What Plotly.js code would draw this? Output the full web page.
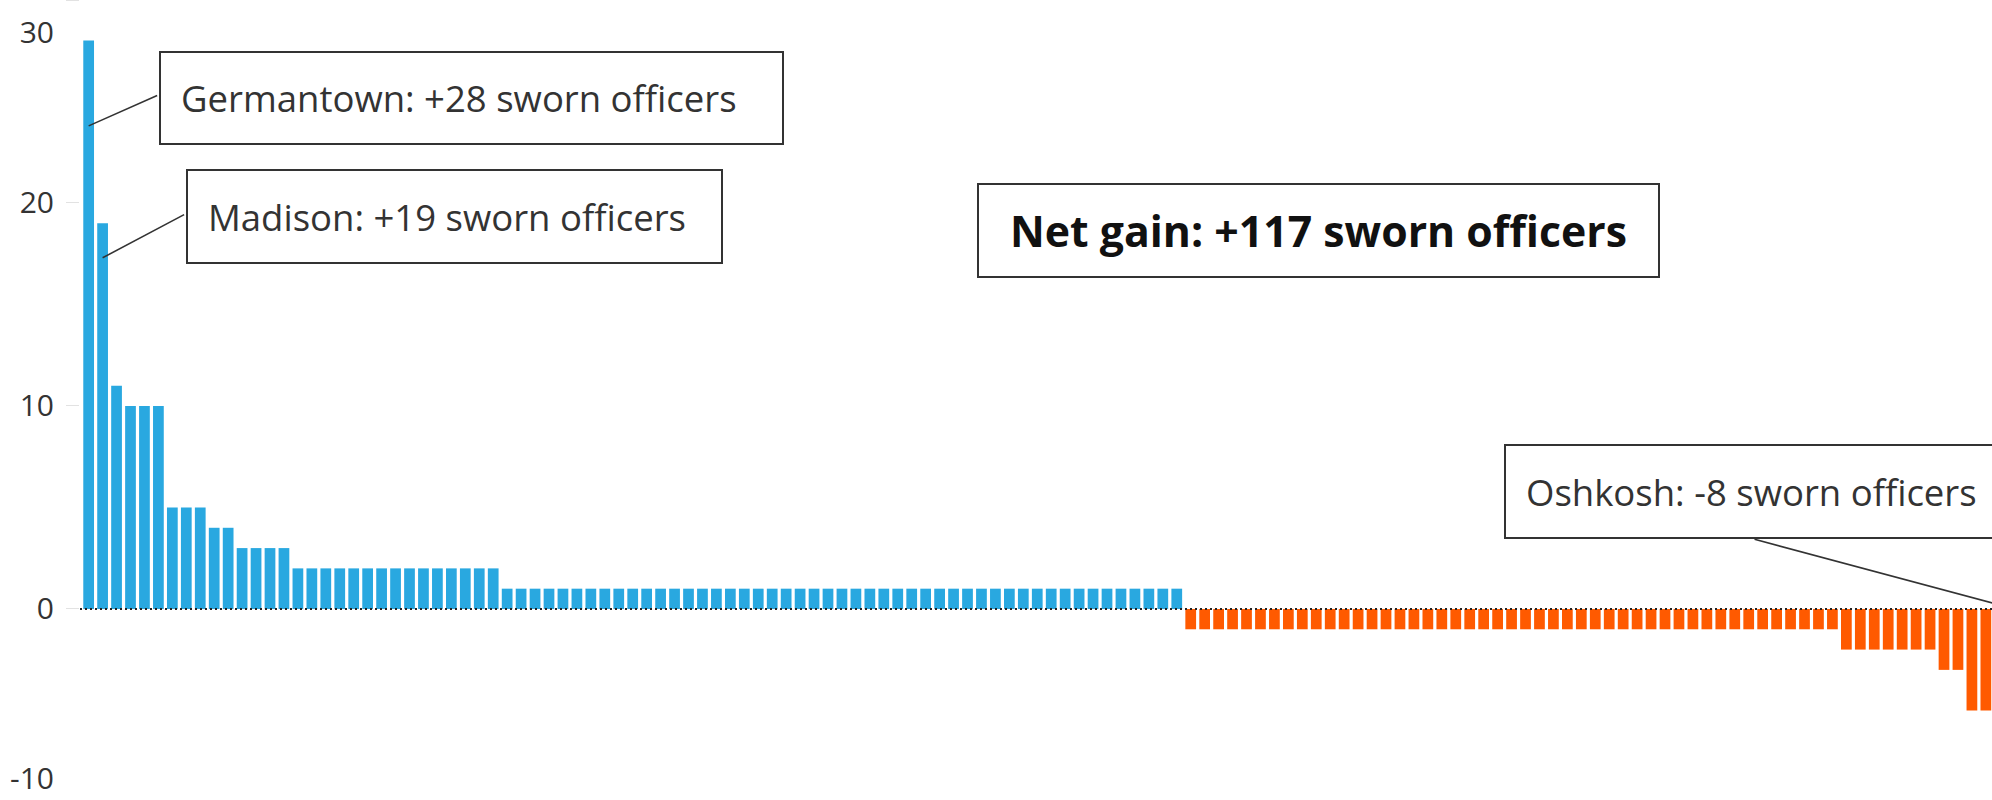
<!DOCTYPE html>
<html>
<head>
<meta charset="utf-8">
<script src="https://cdn.plot.ly/plotly-3.0.1.min.js"></script>
<style>
  html, body { margin: 0; padding: 0; background: #ffffff; }
  #chart { width: 1992px; height: 800px; }
</style>
</head>
<body>
<div id="chart"></div>
<script>
// Change in sworn officers per police department, sorted from largest gain to largest loss
const officerChange = [
  28, 19, 11, 10, 10, 10, 5, 5, 5, 4, 4, 3, 3, 3, 3,
  2, 2, 2, 2, 2, 2, 2, 2, 2, 2, 2, 2, 2, 2, 2,
  1, 1, 1, 1, 1, 1, 1, 1, 1, 1, 1, 1, 1, 1, 1, 1, 1, 1, 1, 1,
  1, 1, 1, 1, 1, 1, 1, 1, 1, 1, 1, 1, 1, 1, 1, 1, 1, 1, 1, 1,
  1, 1, 1, 1, 1, 1, 1, 1, 1,
  -1, -1, -1, -1, -1, -1, -1, -1, -1, -1, -1, -1, -1, -1, -1, -1, -1, -1, -1, -1,
  -1, -1, -1, -1, -1, -1, -1, -1, -1, -1, -1, -1, -1, -1, -1, -1, -1, -1, -1, -1,
  -1, -1, -1, -1, -1, -1, -1,
  -2, -2, -2, -2, -2, -2, -2,
  -3, -3,
  -5, -5,
  -8
];
// rank position of each department along the x axis
const departmentRank = officerChange.map((_, i) => i);

const yTickValues = [0, 10, 20, 30];
const yTickLabels = ['0', '10', '20', ''];
const edgeTickValues = [30, -10];
const edgeTickLabels = ['30', '-10'];

const calloutLabels = [
  'Germantown: +28 sworn officers',
  'Madison: +19 sworn officers',
  'Oshkosh: -8 sworn officers'
];
const netGainLabel = 'Net gain: +117 sworn officers';

const gainColor = '#29A8E0';
const lossColor = '#FF5A00';

const barTrace = {
  type: 'bar',
  x: departmentRank,
  y: officerChange,
  marker: { color: officerChange.map(v => v >= 0 ? gainColor : lossColor), line: { width: 0 } },
  hoverinfo: 'skip'
};
// empty trace so the edge-label axis (y2) is created
const edgeAxisTrace = { type: 'scatter', x: [], y: [], yaxis: 'y2', hoverinfo: 'skip', showlegend: false };

const boxStyle = { showarrow: false, bordercolor: '#333333', borderwidth: 2, bgcolor: '#ffffff' };
const leaderStyle = { text: '', showarrow: true, arrowhead: 0, arrowwidth: 1.6, arrowcolor: '#333333' };
const labelFont = { size: 36.5, color: '#333333' };

const layout = {
  width: 1992,
  height: 800,
  margin: { l: 80, r: 0, t: 0, b: 0, pad: 0 },
  paper_bgcolor: '#ffffff',
  plot_bgcolor: '#ffffff',
  showlegend: false,
  bargap: 0.23,
  font: { family: '"Open Sans", sans-serif', color: '#333333' },
  xaxis: {
    range: [-0.62, 136.44],
    showgrid: false, zeroline: false, showline: false,
    showticklabels: false, ticks: '', fixedrange: true
  },
  yaxis: {
    range: [-9.41, 30.0],
    tickvals: yTickValues, ticktext: yTickLabels,
    ticks: 'outside', ticklen: 13, tickwidth: 1, tickcolor: '#e2e2e2',
    ticklabelstandoff: 6, ticklabeloverflow: 'allow',
    showgrid: false, zeroline: false, showline: false,
    tickfont: { size: 30, color: '#333333' }, fixedrange: true
  },
  yaxis2: {
    overlaying: 'y', side: 'left', anchor: 'x',
    range: [-11.18, 31.72],
    tickvals: edgeTickValues, ticktext: edgeTickLabels,
    ticks: 'outside', ticklen: 13, tickwidth: 1, tickcolor: 'rgba(0,0,0,0)',
    ticklabelstandoff: 6, ticklabeloverflow: 'allow',
    showgrid: false, zeroline: false, showline: false,
    tickfont: { size: 30, color: '#333333' }, fixedrange: true
  },
  shapes: [{
    type: 'line', xref: 'paper', x0: 0, x1: 1, yref: 'y', y0: 0, y1: 0,
    line: { color: '#222222', width: 2, dash: '2px,3px' }, layer: 'above'
  }],
  annotations: [
    Object.assign({}, leaderStyle, { xref: 'x', yref: 'y', x: 0, y: 23.8, ax: 70, ay: -31 }),
    Object.assign({}, leaderStyle, { xref: 'x', yref: 'y', x: 1, y: 17.3, ax: 83, ay: -44 }),
    Object.assign({}, leaderStyle, { xref: 'x', yref: 'y', x: 137, y: 0.2, axref: 'x', ayref: 'y', ax: 119.31, ay: 3.45 }),
    Object.assign({}, boxStyle, {
      xref: 'paper', yref: 'paper', x: 0.04132, y: 0.93625, xanchor: 'left', yanchor: 'top',
      text: calloutLabels[0], align: 'left', width: 581, height: 50, borderpad: 20,
      font: labelFont
    }),
    Object.assign({}, boxStyle, {
      xref: 'paper', yref: 'paper', x: 0.05544, y: 0.78875, xanchor: 'left', yanchor: 'top',
      text: calloutLabels[1], align: 'left', width: 493, height: 51, borderpad: 20,
      font: labelFont
    }),
    Object.assign({}, boxStyle, {
      xref: 'paper', yref: 'paper', x: 0.46914, y: 0.77125, xanchor: 'left', yanchor: 'top',
      text: '<b>' + netGainLabel + '</b>', align: 'center', width: 659, height: 71, borderpad: 10,
      font: { size: 42.8, color: '#111111' }
    }),
    Object.assign({}, boxStyle, {
      xref: 'paper', yref: 'paper', x: 0.74477, y: 0.445, xanchor: 'left', yanchor: 'top',
      text: calloutLabels[2], align: 'left', width: 500, height: 51, borderpad: 20,
      font: labelFont
    })
  ]
};

Plotly.newPlot('chart', [barTrace, edgeAxisTrace], layout, { displayModeBar: false, staticPlot: true });
</script>
</body>
</html>
